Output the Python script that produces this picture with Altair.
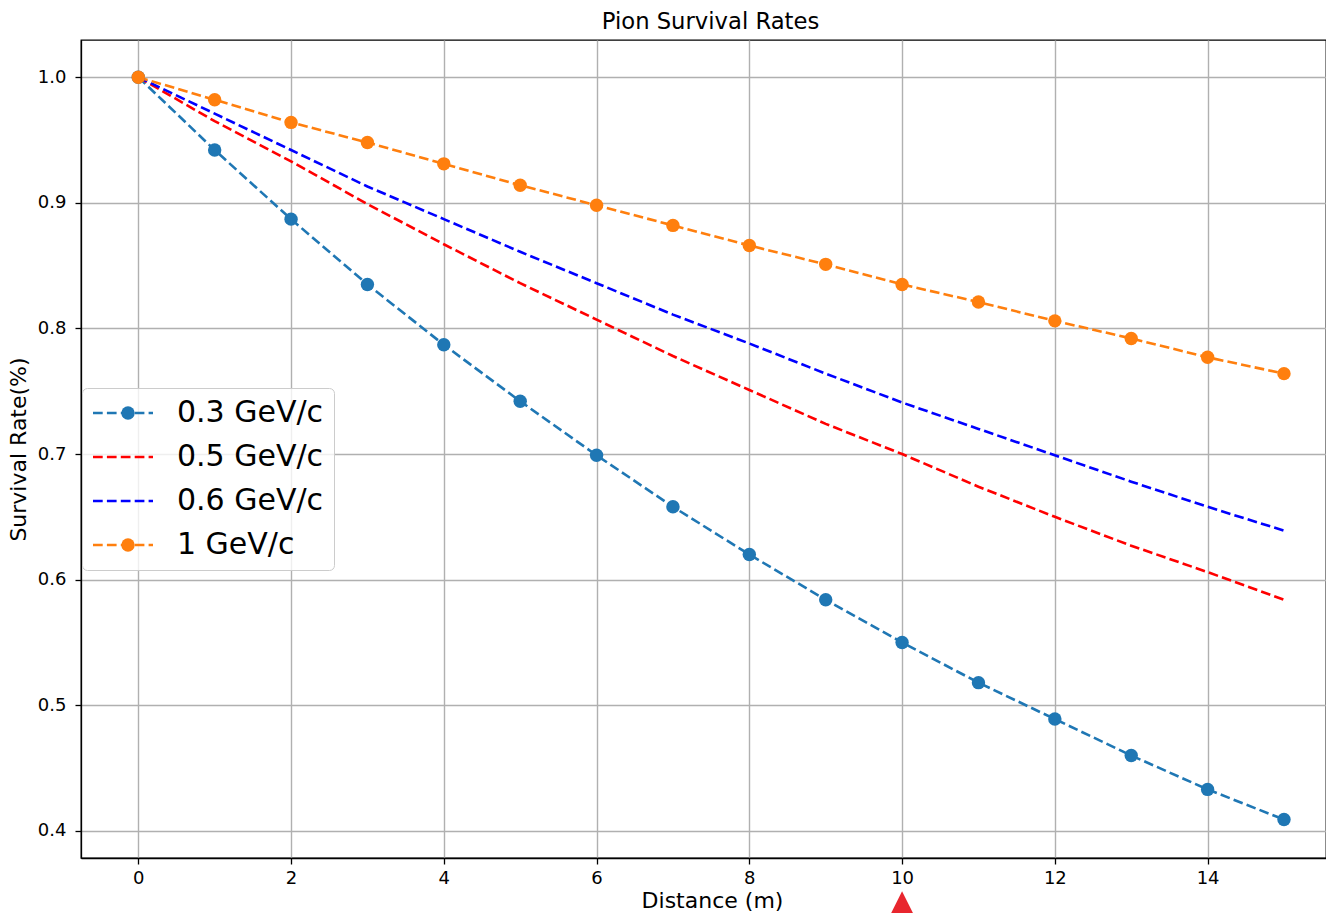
import altair as alt
import pandas as pd

distance = list(range(16))
s03 = [1.000, 0.942, 0.887, 0.835, 0.787, 0.742, 0.699, 0.658, 0.620, 0.584, 0.550, 0.518, 0.489, 0.460, 0.433, 0.409]
s05 = [1.000, 0.965, 0.933, 0.899, 0.867, 0.836, 0.807, 0.778, 0.751, 0.724, 0.700, 0.674, 0.650, 0.627, 0.606, 0.584]
s06 = [1.000, 0.971, 0.942, 0.913, 0.887, 0.861, 0.836, 0.811, 0.788, 0.764, 0.741, 0.720, 0.699, 0.678, 0.658, 0.639]
s10 = [1.000, 0.982, 0.964, 0.948, 0.931, 0.914, 0.898, 0.882, 0.866, 0.851, 0.835, 0.821, 0.806, 0.792, 0.777, 0.764]

series = ["0.3 GeV/c", "0.5 GeV/c", "0.6 GeV/c", "1 GeV/c"]
colors = ["#1f77b4", "#ff0000", "#0000ff", "#ff7f0e"]
marker_series = ["0.3 GeV/c", "1 GeV/c"]
marker_keys = ["m1", "m2", "m3", "m4"]
marker_fill = ["#1f77b4", "transparent", "transparent", "#ff7f0e"]

x_ticks = [0, 2, 4, 6, 8, 10, 12, 14]
y_ticks = [0.4, 0.5, 0.6, 0.7, 0.8, 0.9, 1.0]

flag_x = [10]
flag_y = [0.338]

rows = []
for name, key, vals in zip(series, marker_keys, [s03, s05, s06, s10]):
    for d, v in zip(distance, vals):
        rows.append({"distance": d, "rate": v, "series": name, "mkey": key})
df = pd.DataFrame(rows)
df_pts = df[df["series"].isin(marker_series)]
df_flag = pd.DataFrame({"distance": flag_x, "rate": flag_y})

FONT = "DejaVu Sans"

xscale = alt.Scale(domain=[-0.75, 15.55], nice=False, zero=False)
yscale = alt.Scale(domain=[0.3784, 1.0296], nice=False, zero=False)

x_axis = alt.Axis(values=x_ticks, format="d", title="Distance (m)", grid=True,
                  labelFlush=False, labelPadding=5, titlePadding=3, titleX=631)
y_axis = alt.Axis(values=y_ticks, format=".1f", title="Survival Rate(%)", grid=True,
                  labelPadding=9, titlePadding=7)

lines = alt.Chart(df).mark_line(strokeWidth=2.6, strokeDash=[9.7, 4.2]).encode(
    x=alt.X("distance:Q", scale=xscale, axis=x_axis),
    y=alt.Y("rate:Q", scale=yscale, axis=y_axis),
    color=alt.Color("series:N", scale=alt.Scale(domain=series, range=colors),
                    legend=alt.Legend(orient="none", legendX=1, legendY=348, title=None,
                                      symbolType="M-3,0L3,0", symbolSize=400,
                                      symbolStrokeWidth=2.6, symbolDash=[9.7, 4.2],
                                      symbolOffset=16, labelOffset=39,
                                      labelFontSize=30, labelFont=FONT, labelColor="black",
                                      padding=10, rowPadding=14,
                                      fillColor="rgba(255,255,255,0.8)",
                                      strokeColor="#cccccc", cornerRadius=5, zindex=1)),
)

points = alt.Chart(df_pts).mark_point(filled=True, size=180, opacity=1).encode(
    x=alt.X("distance:Q", scale=xscale),
    y=alt.Y("rate:Q", scale=yscale),
    fill=alt.Fill("mkey:N", scale=alt.Scale(domain=marker_keys, range=marker_fill),
                  legend=alt.Legend(orient="none", legendX=1, legendY=348, title=None,
                                    symbolType="circle", symbolSize=180,
                                    symbolStrokeWidth=0, symbolOffset=21,
                                    labelOffset=39, labelFontSize=30, labelFont=FONT,
                                    labelExpr="' '", labelOpacity=0,
                                    padding=10, rowPadding=14, zindex=2)),
)

flag = alt.Chart(df_flag).mark_point(filled=True, shape="M0,-1L1,1L-1,1Z", size=1225,
                                     color="#e8262e", opacity=1, clip=False).encode(
    x=alt.X("distance:Q", scale=xscale),
    y=alt.Y("rate:Q", scale=yscale),
)

chart = alt.layer(lines, points, flag).properties(
    width=1245,
    height=818,
    title=alt.Title("Pion Survival Rates", fontSize=22.7, fontWeight="normal", font=FONT,
                    color="black", offset=10, baseline="alphabetic", frame="group",
                    dy=22, dx=7),
    padding={"left": 73, "top": 32, "right": 0, "bottom": 55},
    autosize=alt.AutoSizeParams(type="none"),
).configure(
    font=FONT,
).configure_view(
    stroke="black", strokeWidth=1.3,
).configure_axis(
    labelFont=FONT, titleFont=FONT, labelFontSize=18, titleFontSize=22,
    labelColor="black", titleColor="black", titleFontWeight="normal",
    gridColor="#b0b0b0", gridWidth=1.4, gridOpacity=1,
    domainColor="black", domainWidth=1.3,
    tickColor="black", tickWidth=1.3, tickSize=6,
)

chart.save("out.html", embed_options={"renderer": "svg", "actions": False})
